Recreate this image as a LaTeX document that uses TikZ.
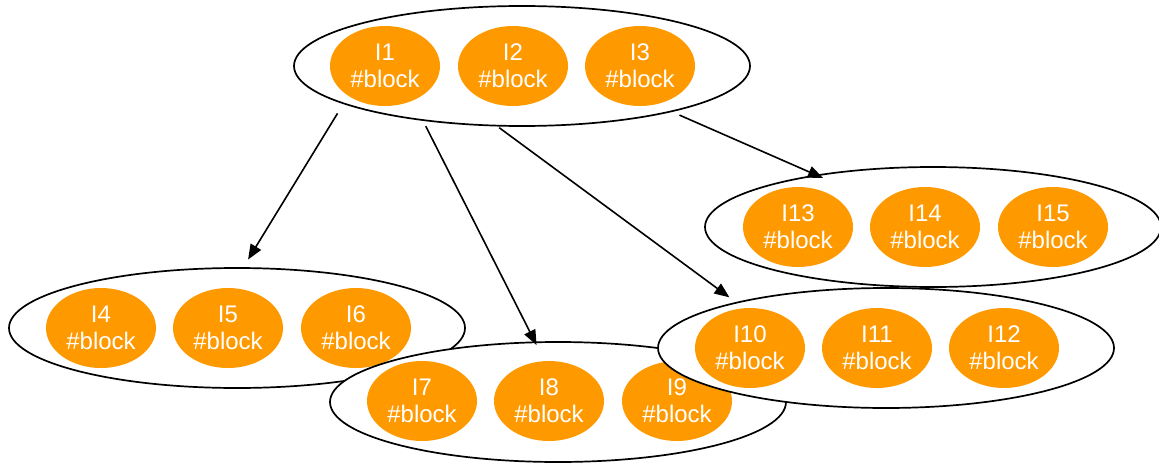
\documentclass[tikz,border=0pt]{standalone}
\usepackage{fontspec}
\setmainfont{Liberation Sans}
\usepackage{xcolor}
\usepackage{tikz}
\usetikzlibrary{arrows.meta,calc,positioning,shapes.geometric}

\definecolor{blockorange}{HTML}{FF9900}

\begin{document}
\begin{tikzpicture}[x=1pt, y=-1pt,
    group/.style={ellipse, draw, fill=white, line width=1.7pt, minimum width=456pt, minimum height=120pt, inner sep=0pt},
    block/.style={ellipse, fill=blockorange, text=white, minimum width=110pt, minimum height=80pt, inner sep=0pt, align=center, font=\fontsize{24}{27}\selectfont},
    link/.style={-{Triangle[length=15pt,width=12pt]}, line width=1.6pt}]
    \useasboundingbox (0,0) rectangle (1159,463);
    % top group
    \node[group] (g1) at (522,66) {};
    \node[block] (i1) at (385,66) {I1\\\#block};
    \node[block] (i2) at (513,66) {I2\\\#block};
    \node[block] (i3) at (640,66) {I3\\\#block};
    % right group
    \node[group] (g2) at (933,227) {};
    \node[block] (i13) at (798,227) {I13\\\#block};
    \node[block] (i14) at (925,227) {I14\\\#block};
    \node[block] (i15) at (1053,227) {I15\\\#block};
    % left group
    \node[group] (g3) at (237,328) {};
    \node[block] (i4) at (101,328) {I4\\\#block};
    \node[block] (i5) at (228,328) {I5\\\#block};
    \node[block] (i6) at (356,328) {I6\\\#block};
    % bottom group
    \node[group] (g4) at (558,402) {};
    \node[block] (i7) at (422,401) {I7\\\#block};
    \node[block] (i8) at (549,401) {I8\\\#block};
    \node[block] (i9) at (677,401) {I9\\\#block};
    % middle right group
    \node[group] (g5) at (886,348) {};
    \node[block] (i10) at (750,348) {I10\\\#block};
    \node[block] (i11) at (877,348) {I11\\\#block};
    \node[block] (i12) at (1004,348) {I12\\\#block};
    % links
    \draw[link, shorten <=11pt, shorten >=9pt] (g1.192.7) -- (g3.84.3);
    \draw[link, shorten <=6pt, shorten >=-4pt] (g1.209.5) -- (g4.111.7);
    \draw[link, shorten <=2pt, shorten >=8pt] (g1.248) -- (g5.163.2);
    \draw[link, shorten <=8pt, shorten >=-8pt] (g1.343.7) -- (g2.156.2);
\end{tikzpicture}
\end{document}
